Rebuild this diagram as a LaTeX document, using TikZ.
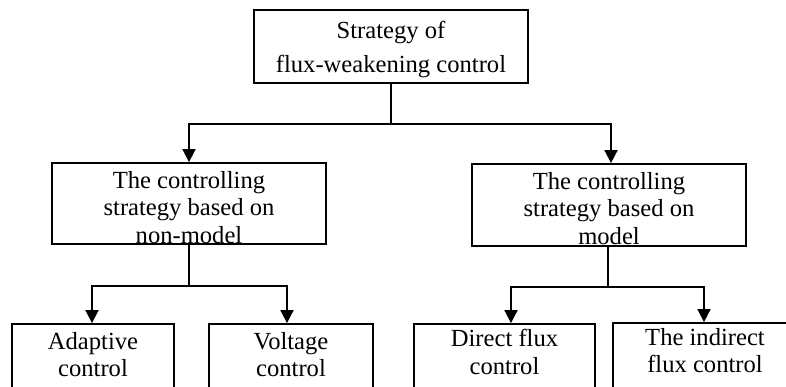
\documentclass[tikz,border=0pt]{standalone}
\usepackage{fontspec}
\setmainfont{Liberation Serif}
\usetikzlibrary{positioning,arrows.meta}
\tikzstyle{arrow} = [line width=1.8pt,-{Triangle[length=13pt,width=13pt]}]
\tikzstyle{link} = [line width=1.8pt]
\tikzstyle{stratbox} = [rectangle, draw=black, line width=1.8pt, inner sep=0pt]
\tikzstyle{boxtext} = [align=center, inner sep=0pt, font=\fontsize{24.6}{27.5}\selectfont]
\tikzstyle{toptext} = [align=center, inner sep=0pt, font=\fontsize{24.6}{34}\selectfont]

\begin{document}
\begin{tikzpicture}[x=1pt,y=-1pt]
    \useasboundingbox (0,0) rectangle (786,387);
    \clip (0,0) rectangle (786,387);
    % boxes
    \node[stratbox, minimum width=274pt, minimum height=73pt](root) at (391,46.5){};
    \node[stratbox, minimum width=274pt, minimum height=81pt](nonmodel) at (189,203.5){};
    \node[stratbox, minimum width=274pt, minimum height=82pt](model) at (609,205){};
    \node[stratbox, minimum width=162pt, minimum height=80pt](adaptive) at (93,364){};
    \node[stratbox, minimum width=164pt, minimum height=80pt](voltage) at (291,364){};
    \node[stratbox, minimum width=181pt, minimum height=80pt](direct) at (504.5,364){};
    \node[stratbox, minimum width=184pt, minimum height=80pt](indirect) at (705,363){};
    % texts
    \node[toptext, below=12pt of root.north](roottext){Strategy of\\flux-weakening control};
    \node[boxtext, below=9pt of nonmodel.north](nonmodeltext){The controlling\\strategy based on\\non-model};
    \node[boxtext, below=9pt of model.north](modeltext){The controlling\\strategy based on\\model};
    \node[boxtext, below=9pt of adaptive.north](adaptivetext){Adaptive\\control};
    \node[boxtext, below=9pt of voltage.north](voltagetext){Voltage\\control};
    \node[boxtext, below=6pt of direct.north](directtext){Direct flux\\control};
    \node[boxtext, below=6pt of indirect.north](indirecttext){The indirect\\flux control};
    % connectors
    \coordinate (split1) at (391,124);
    \coordinate (split2) at (189,286);
    \coordinate (split3) at (608,287);
    \draw[link] (root.south) -- (split1);
    \draw[arrow] (split1) -| (nonmodel.north);
    \draw[arrow] (split1) -| ([xshift=2pt]model.north);
    \draw[link] (nonmodel.south) -- (split2);
    \draw[arrow] (split2) -| ([xshift=-1pt]adaptive.north);
    \draw[arrow] (split2) -| ([xshift=-4pt]voltage.north);
    \draw[link] ([xshift=-1pt]model.south) -- (split3);
    \draw[arrow] (split3) -| ([xshift=6.5pt]direct.north);
    \draw[arrow] (split3) -| ([xshift=-1pt]indirect.north);
\end{tikzpicture}
\end{document}
